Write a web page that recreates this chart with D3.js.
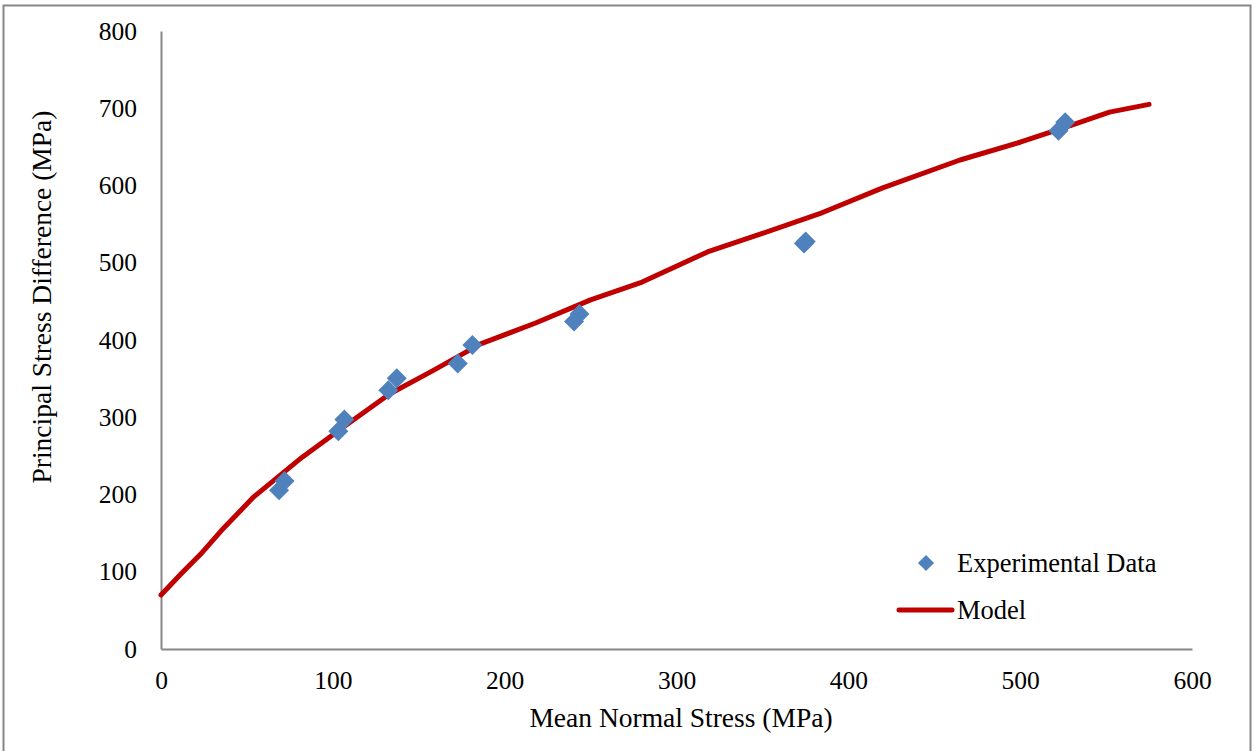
<!DOCTYPE html>
<html>
<head>
<meta charset="utf-8">
<script src="https://cdn.jsdelivr.net/npm/d3@7"></script>
<style>
  body { margin: 0; background: #fff; }
  text { font-family: "Liberation Serif", "Times New Roman", serif; fill: #000; }
</style>
</head>
<body>
<div id="chart"></div>
<script>
// experimental points (mean normal stress, principal stress difference)
const exp_x = [68.7, 71.9, 103.2, 106.7, 132.3, 137.2, 172.7, 181.2, 240.4, 243.5, 374.2, 375.2, 522.3, 526.2];
const exp_y = [205.5, 217.5, 282, 297, 335, 350.5, 369.5, 393.5, 424, 433.5, 525, 527.5, 671, 682];

// model curve
const model_x = [0, 12, 24, 35, 54, 82, 106, 133, 158, 186, 218, 250, 280, 318, 350, 385, 420, 465, 500, 530, 552, 575];
const model_y = [70, 98, 125, 153, 197, 248, 287, 330, 360, 395, 422, 452, 475, 514, 538, 565, 597, 633, 656, 678, 695, 705];

const x_ticks = [0, 100, 200, 300, 400, 500, 600];
const y_ticks = [0, 100, 200, 300, 400, 500, 600, 700, 800];

const W = 1254, H = 751;
const margin = { top: 31, right: 62, bottom: 102, left: 161 };
const width = W - margin.left - margin.right;
const height = H - margin.top - margin.bottom;

const svg = d3.select("#chart").append("svg")
      .attr("width", W)
      .attr("height", H);

// outer frame (bottom edge falls outside the picture)
svg.append("path")
      .attr("d", "M3.5," + H + "V5.5H1250.5V" + H)
      .attr("fill", "none")
      .attr("stroke", "#878787")
      .attr("stroke-width", 2);

const g = svg.append("g")
      .attr("transform", "translate(" + margin.left + "," + margin.top + ")");

const xScale = d3.scaleLinear().domain([0, 600]).range([0, width]);
const yScale = d3.scaleLinear().domain([0, 800]).range([height, 0]);

// axes: lines only, no tick marks
const xAxis = g.append("g")
      .attr("transform", "translate(0," + height + ")")
      .call(d3.axisBottom(xScale).tickValues(x_ticks).tickSize(0).tickPadding(22));
const yAxis = g.append("g")
      .call(d3.axisLeft(yScale).tickValues(y_ticks).tickSize(0).tickPadding(24));

for (const ax of [xAxis, yAxis]) {
      ax.select(".domain").attr("stroke", "#878787").attr("stroke-width", 2);
      ax.selectAll("text")
            .style("font-family", "'Liberation Serif', serif")
            .style("font-size", "25.5px")
            .attr("fill", "#000");
}

// model line
const model = model_x.map((v, i) => [v, model_y[i]]);
g.append("path")
      .datum(model)
      .attr("fill", "none")
      .attr("stroke", "#C00000")
      .attr("stroke-width", 5)
      .attr("stroke-linecap", "round")
      .attr("stroke-linejoin", "round")
      .attr("d", d3.line().x(d => xScale(d[0])).y(d => yScale(d[1])));

// experimental diamonds
const diamond = d3.symbol().type(d3.symbolSquare).size(200);
g.selectAll(".pt")
      .data(exp_x.map((v, i) => [v, exp_y[i]]))
      .join("path")
      .attr("class", "pt")
      .attr("d", diamond)
      .attr("fill", "#4F81BD")
      .attr("transform", d => "translate(" + xScale(d[0]) + "," + yScale(d[1]) + ") rotate(45)");

// axis titles
svg.append("text")
      .attr("x", 681).attr("y", 727)
      .attr("text-anchor", "middle")
      .style("font-size", "27.5px")
      .text("Mean Normal Stress (MPa)");

svg.append("text")
      .attr("transform", "translate(51,297) rotate(-90)")
      .attr("text-anchor", "middle")
      .style("font-size", "27.5px")
      .text("Principal Stress Difference (MPa)");

// legend
const leg = svg.append("g");
leg.append("path")
      .attr("d", d3.symbol().type(d3.symbolSquare).size(130))
      .attr("fill", "#4F81BD")
      .attr("transform", "translate(926,563) rotate(45)");
leg.append("text").attr("x", 957).attr("y", 572).style("font-size", "26.5px").text("Experimental Data");
leg.append("line")
      .attr("x1", 899).attr("x2", 952).attr("y1", 610).attr("y2", 610)
      .attr("stroke", "#C00000").attr("stroke-width", 5).attr("stroke-linecap", "round");
leg.append("text").attr("x", 957).attr("y", 619).style("font-size", "26.5px").text("Model");
</script>
</body>
</html>
